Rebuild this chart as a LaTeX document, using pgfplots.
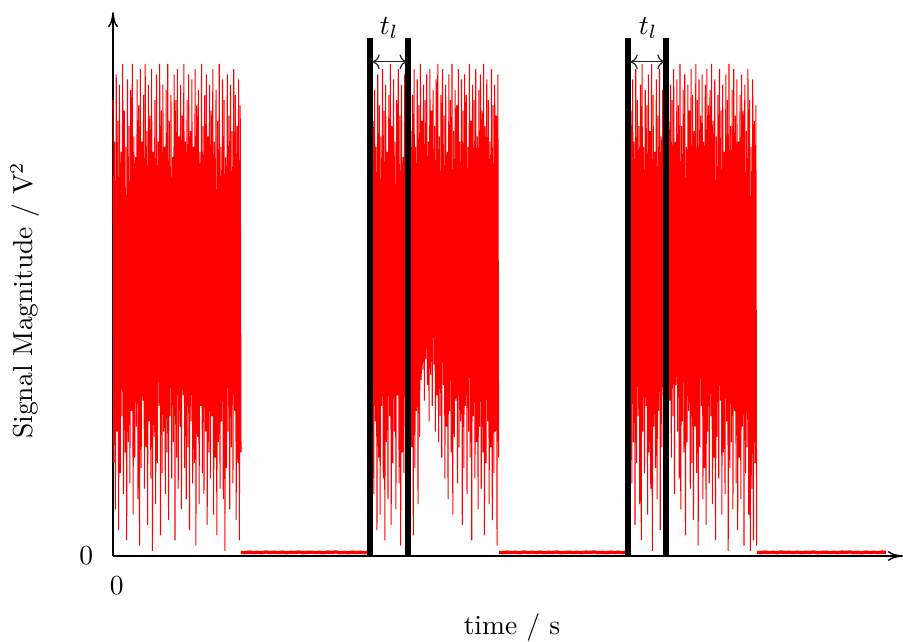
\documentclass[border=0pt]{standalone}
\usepackage{pgfplots}
\usepackage{pgfplotstable}
\usetikzlibrary{arrows.meta}
\pgfplotsset{compat=1.18}

% burst samples (signal magnitude, alternating local maxima / minima)
\pgfplotstableread[row sep=\\]{y\\
88\\18\\80\\9\\93\\24\\84\\5\\91\\16\\78\\27\\95\\12\\86\\20\\79\\3\\92\\22\\
83\\14\\90\\28\\95\\8\\81\\19\\77\\25\\92\\11\\87\\2\\94\\17\\80\\30\\89\\13\\
95\\21\\82\\6\\91\\26\\85\\15\\94\\1\\78\\23\\88\\10\\93\\18\\80\\29\\95\\4\\
86\\16\\91\\24\\79\\12\\90\\20\\95\\7\\84\\27\\89\\15\\77\\22\\93\\3\\88\\19\\
94\\13\\81\\25\\91\\9\\85\\31\\95\\17\\80\\11\\88\\21\\93\\5\\82\\26\\92\\14\\
79\\18\\94\\2\\87\\23\\90\\10\\78\\29\\95\\16\\83\\12\\89\\24\\93\\6\\81\\20\\
91\\15\\86\\27\\94\\8\\80\\19\\90\\4\\84\\22\\95\\13\\79\\26\\92\\11\\88\\1\\
77\\17\\93\\24\\85\\9\\91\\21\\82\\14\\94\\28\\89\\7\\83\\18\\92\\3\\87\\20\\
}\burstA

\pgfplotstableread[row sep=\\]{y\\
84\\12\\90\\26\\79\\5\\93\\19\\87\\8\\81\\29\\94\\15\\86\\3\\91\\22\\78\\11\\
89\\27\\95\\6\\83\\18\\92\\24\\80\\9\\88\\31\\94\\14\\85\\2\\91\\20\\77\\16\\
93\\25\\86\\7\\90\\13\\95\\32\\82\\21\\89\\4\\94\\17\\79\\28\\92\\10\\87\\23\\
95\\34\\84\\36\\91\\30\\88\\38\\93\\33\\80\\26\\94\\35\\86\\29\\90\\37\\83\\24\\
92\\31\\95\\22\\81\\27\\89\\19\\94\\33\\85\\15\\91\\25\\78\\11\\93\\28\\88\\20\\
95\\8\\82\\23\\90\\30\\87\\14\\94\\21\\80\\26\\92\\6\\86\\17\\93\\29\\89\\12\\
79\\24\\95\\19\\84\\3\\91\\27\\88\\15\\94\\22\\81\\9\\90\\25\\93\\13\\86\\20\\
95\\4\\83\\18\\92\\26\\88\\10\\80\\21\\94\\7\\87\\16\\91\\24\\85\\2\\93\\19\\
}\burstB

\pgfplotstableread[row sep=\\]{y\\
86\\14\\92\\22\\80\\6\\94\\18\\88\\27\\83\\10\\91\\3\\95\\24\\79\\16\\90\\29\\
87\\8\\93\\20\\82\\13\\95\\1\\89\\25\\78\\17\\92\\11\\85\\28\\94\\5\\81\\21\\
90\\31\\93\\26\\86\\34\\95\\23\\84\\30\\91\\19\\88\\27\\94\\12\\80\\33\\92\\24\\
87\\15\\95\\9\\83\\26\\90\\20\\93\\4\\79\\22\\91\\28\\86\\13\\94\\18\\89\\7\\
82\\25\\95\\16\\88\\2\\92\\21\\85\\29\\93\\11\\80\\17\\91\\6\\94\\24\\87\\14\\
90\\27\\95\\10\\84\\19\\92\\3\\81\\23\\89\\15\\94\\30\\86\\8\\91\\20\\78\\12\\
93\\26\\88\\1\\95\\17\\83\\22\\90\\9\\94\\28\\85\\14\\92\\5\\80\\19\\89\\11\\
93\\25\\86\\2\\91\\16\\82\\21\\94\\8\\88\\1\\79\\13\\92\\3\\84\\18\\87\\2\\
}\burstC

% low-level noise between bursts
\pgfplotstableread[row sep=\\]{y\\
0.70\\0.64\\0.76\\0.66\\0.72\\0.62\\0.78\\0.67\\0.73\\0.65\\0.75\\0.63\\0.71\\0.68\\0.77\\0.64\\0.70\\
0.74\\0.66\\0.72\\0.62\\0.76\\0.69\\0.78\\0.65\\0.71\\0.63\\0.75\\0.68\\0.72\\0.64\\0.76\\0.70\\
}\quiet

\begin{document}
\begin{tikzpicture}
\useasboundingbox (-41.09pt,-30.91pt) rectangle (287.27pt,202.18pt);
\begin{axis}[
  at={(0,0)}, anchor=origin,
  x=0.36364pt, y=1.88364pt,
  xmin=0, xmax=790, ymin=0, ymax=105,
  axis lines=left,
  every outer x axis line/.append style={-{To[length=5.5pt,width=3.6pt]}},
  every outer y axis line/.append style={-{To[length=5.5pt,width=3.6pt]}},
  axis line style={line width=0.5pt},
  xtick={0}, ytick={0},
  major tick length=0pt,
  xticklabel style={yshift=-4pt, xshift=1.4pt},
  yticklabel style={xshift=-3.7pt},
  clip=false,
  xlabel={time / s},
  ylabel={Signal Magnitude / V$^2$},
  every axis x label/.style={at={(axis description cs:0.505,-0.1324)}, anchor=center},
  every axis y label/.style={at={(axis description cs:-0.1114,0.47)}, anchor=center, rotate=90},
]
% signal bursts
\addplot[red, line width=0.38pt, line join=bevel, mark=none]
  table[x expr=\coordindex*0.805, y=y] {\burstA};
\addplot[red, line width=0.38pt, line join=bevel, mark=none]
  table[x expr=260+\coordindex*0.79, y=y] {\burstB};
\addplot[red, line width=0.38pt, line join=bevel, mark=none]
  table[x expr=518+\coordindex*0.79, y=y] {\burstC};
% quiet segments
\addplot[red, line width=1.2pt, mark=none]
  table[x expr=128+\coordindex*4.125, y=y] {\quiet};
\addplot[red, line width=1.2pt, mark=none]
  table[x expr=386+\coordindex*4.125, y=y] {\quiet};
\addplot[red, line width=1.2pt, mark=none]
  table[x expr=644+\coordindex*4.03, y=y] {\quiet};
% thick black markers
\addplot[black, line width=2.4pt, mark=none] coordinates {(257,0) (257,100)};
\addplot[black, line width=2.4pt, mark=none] coordinates {(295,0) (295,100)};
\addplot[black, line width=2.4pt, mark=none] coordinates {(515,0) (515,100)};
\addplot[black, line width=2.4pt, mark=none] coordinates {(553,0) (553,100)};
% t_l arrows
\addplot[black!85, line width=0.45pt, <->, mark=none] coordinates {(259.6,95.4) (293.6,95.4)};
\addplot[black!85, line width=0.45pt, <->, mark=none] coordinates {(517.6,95.4) (551.4,95.4)};
\node at (axis cs:276,102) {$t_l$};
\node at (axis cs:535,102) {$t_l$};
\end{axis}
\end{tikzpicture}
\end{document}
